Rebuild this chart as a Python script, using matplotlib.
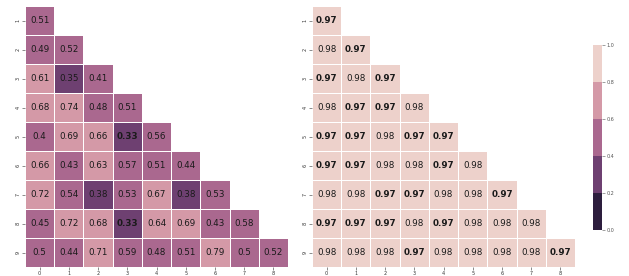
import numpy as np
import matplotlib
matplotlib.use("Agg")
from matplotlib import pyplot as plt
from matplotlib.colors import ListedColormap
import seaborn as sns

# row labels 1..9, column labels 0..8 (lower triangle only)
row_labels = [1, 2, 3, 4, 5, 6, 7, 8, 9]
col_labels = [0, 1, 2, 3, 4, 5, 6, 7, 8]

left_rows = [
    [0.51],
    [0.49, 0.52],
    [0.61, 0.35, 0.41],
    [0.68, 0.74, 0.48, 0.51],
    [0.4, 0.69, 0.66, 0.33, 0.56],
    [0.66, 0.43, 0.63, 0.57, 0.51, 0.44],
    [0.72, 0.54, 0.38, 0.53, 0.67, 0.38, 0.53],
    [0.45, 0.72, 0.68, 0.33, 0.64, 0.69, 0.43, 0.58],
    [0.5, 0.44, 0.71, 0.59, 0.48, 0.51, 0.79, 0.5, 0.52],
]

right_rows = [
    [0.97],
    [0.98, 0.97],
    [0.97, 0.98, 0.97],
    [0.98, 0.97, 0.97, 0.98],
    [0.97, 0.97, 0.98, 0.97, 0.97],
    [0.97, 0.97, 0.98, 0.98, 0.97, 0.98],
    [0.98, 0.98, 0.97, 0.97, 0.98, 0.98, 0.97],
    [0.97, 0.97, 0.97, 0.98, 0.97, 0.98, 0.98, 0.98],
    [0.98, 0.98, 0.98, 0.97, 0.98, 0.98, 0.98, 0.98, 0.97],
]


def to_matrix(rows):
    n = len(rows)
    m = np.full((n, n), np.nan)
    for i, r in enumerate(rows):
        m[i, :len(r)] = r
    return m


cmap = ListedColormap(sns.cubehelix_palette(5, reverse=True))

fig = plt.figure(figsize=(6.29, 2.76), dpi=100)
ax1 = fig.add_axes([25 / 629, 9 / 276, 263 / 629, 261 / 276])
ax2 = fig.add_axes([312 / 629, 9 / 276, 263 / 629, 261 / 276])
cax = fig.add_axes([593 / 629, 46 / 276, 9 / 629, 185 / 276])

for ax, rows, cb in [(ax1, left_rows, False), (ax2, right_rows, True)]:
    data = to_matrix(rows)
    mask = np.isnan(data)
    sns.heatmap(data, mask=mask, ax=ax, cmap=cmap, vmin=0, vmax=1,
                annot=True, fmt=".2g", linewidths=0.6, linecolor="white",
                annot_kws={"fontsize": 6.3, "color": "#1a1a1a"},
                cbar=cb, cbar_ax=cax if cb else None,
                xticklabels=col_labels, yticklabels=row_labels)
    lo = np.nanmin(data)
    for t in ax.texts:
        if float(t.get_text()) == lo:
            t.set_fontweight("bold")
    ax.tick_params(labelsize=3.5, length=2, width=0.4, colors="#333333", pad=1)
    for lab in ax.get_yticklabels():
        lab.set_rotation(90)
    for lab in ax.get_xticklabels():
        lab.set_rotation(0)

cax.tick_params(labelsize=3.5, length=2, width=0.4, colors="#555555", pad=1)
cax.set_yticks([0.0, 0.2, 0.4, 0.6, 0.8, 1.0])

fig.savefig("out.png", dpi=100)
